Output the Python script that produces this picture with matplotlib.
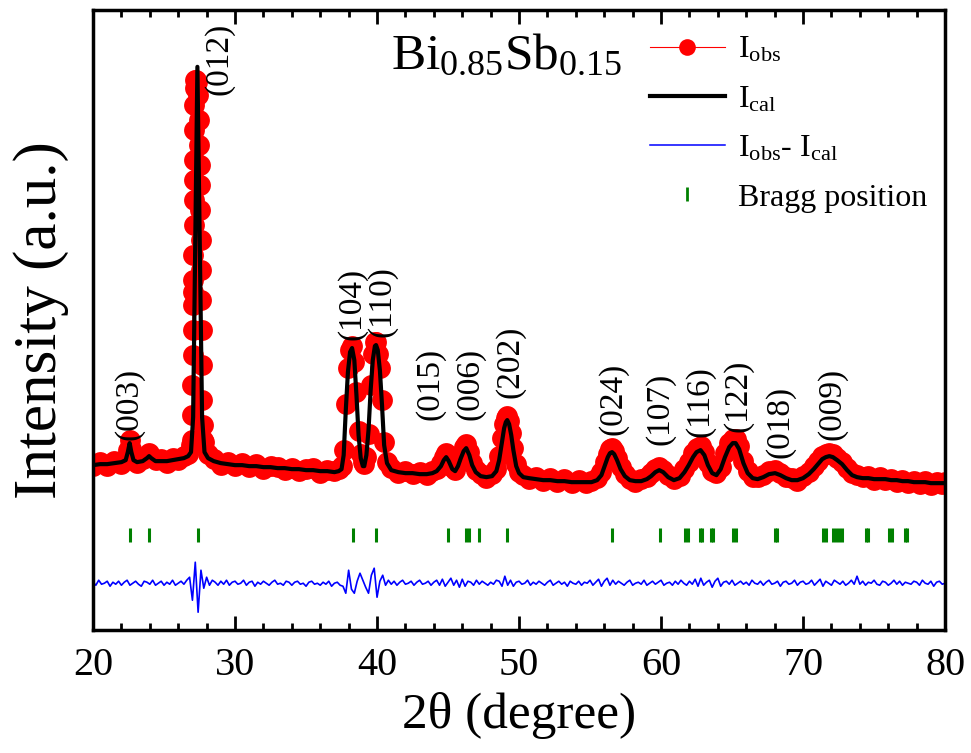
import numpy as np
import matplotlib
matplotlib.use("Agg")
import matplotlib.pyplot as plt
from matplotlib.lines import Line2D

plt.rcParams['font.family'] = ['Liberation Serif', 'DejaVu Serif']
plt.rcParams['mathtext.fontset'] = 'custom'
plt.rcParams['mathtext.rm'] = 'Liberation Serif'
plt.rcParams['mathtext.it'] = 'Liberation Serif:italic'

# ---------------- data ----------------
two_theta = [20.0, 20.5, 21.0, 21.5, 22.0, 22.3, 22.45, 22.58, 22.7, 22.85,
             23.1, 23.5, 23.8, 23.95, 24.1, 24.4, 24.8, 25.2, 25.6, 26.0,
             26.4, 26.7, 26.9, 27.05, 27.19, 27.35, 27.52, 27.68, 27.85, 28.1,
             28.5, 29.0, 29.5, 30.0, 30.5, 31.0, 31.5, 32.0, 32.5, 33.0,
             33.5, 34.0, 34.5, 35.0, 35.5, 36.0, 36.5, 37.0, 37.3, 37.5,
             37.65, 37.8, 37.95, 38.1, 38.24, 38.4, 38.55, 38.7, 38.85, 39.0,
             39.1, 39.25, 39.4, 39.55, 39.7, 39.85, 39.93, 40.05, 40.2, 40.35,
             40.5, 40.7, 41.0, 41.5, 42.0, 42.5, 43.0, 43.5, 43.9, 44.2,
             44.5, 44.7, 44.87, 45.05, 45.3, 45.5, 45.7, 45.9, 46.1, 46.28,
             46.5, 46.7, 46.95, 47.3, 47.7, 48.1, 48.4, 48.6, 48.8, 48.95,
             49.07, 49.17, 49.3, 49.45, 49.6, 49.8, 50.0, 50.3, 50.7, 51.2,
             51.7, 52.2, 52.7, 53.2, 53.7, 54.2, 54.7, 55.1, 55.5, 55.8,
             56.05, 56.25, 56.4, 56.55, 56.7, 56.9, 57.15, 57.45, 57.8, 58.2,
             58.6, 59.0, 59.3, 59.6, 59.87, 60.15, 60.5, 60.9, 61.3, 61.65,
             61.95, 62.25, 62.5, 62.78, 63.05, 63.3, 63.6, 63.9, 64.2, 64.5,
             64.8, 65.05, 65.25, 65.5, 65.8, 66.1, 66.45, 66.8, 67.2, 67.6,
             68.03, 68.4, 68.8, 69.2, 69.6, 70.0, 70.4, 70.75, 71.05, 71.35,
             71.6, 71.85, 72.1, 72.4, 72.75, 73.1, 73.45, 73.8, 74.2, 74.6,
             75.0, 75.4, 75.8, 76.2, 76.6, 77.0, 77.4, 77.8, 78.2, 78.6,
             79.0, 79.4, 79.8, 80.0]

i_cal = [165, 166, 166, 167, 168, 170, 178, 187, 178, 170,
         168, 169, 172, 174, 172, 169, 169, 169, 170, 171,
         172, 174, 178, 213, 380, 563, 380, 213, 178, 172,
         169, 167, 166, 165, 165, 164, 164, 163, 163, 162,
         162, 161, 161, 160, 160, 159, 159, 158, 159, 161,
         175, 220, 258, 278, 282, 270, 235, 195, 172, 164,
         164, 175, 200, 240, 270, 284, 285, 280, 260, 225,
         185, 167, 160, 158, 157, 157, 156, 156, 157, 159,
         164, 170, 173, 169, 161, 159, 164, 172, 179, 182,
         175, 165, 158, 154, 153, 154, 159, 170, 188, 202,
         208, 210, 206, 195, 180, 164, 157, 153, 152, 151,
         150, 150, 149, 149, 148, 148, 148, 148, 150, 155,
         165, 173, 177, 178, 176, 170, 161, 154, 150, 149,
         149, 151, 154, 158, 160, 158, 153, 150, 152, 158,
         165, 173, 178, 180, 175, 165, 157, 155, 161, 173,
         183, 187, 187, 181, 167, 157, 152, 151, 153, 156,
         157, 155, 152, 150, 150, 152, 156, 161, 166, 171,
         173, 174, 173, 170, 166, 160, 155, 153, 152, 152,
         151, 151, 151, 150, 150, 149, 149, 148, 148, 148,
         147, 147, 147, 147]

i_obs = [164, 168, 164, 169, 166, 172, 180, 190, 181, 171,
         167, 171, 173, 177, 173, 170, 171, 167, 172, 170,
         174, 176, 185, 338, 550, 548, 465, 230, 188, 176,
         171, 165, 168, 164, 167, 163, 166, 161, 164, 163,
         160, 162, 159, 161, 162, 157, 160, 159, 161, 164,
         180, 226, 262, 280, 284, 268, 238, 199, 176, 168,
         166, 173, 196, 245, 276, 288, 288, 276, 262, 230,
         188, 168, 162, 157, 159, 156, 158, 155, 159, 161,
         167, 173, 177, 172, 163, 160, 168, 176, 183, 186,
         178, 167, 160, 156, 152, 156, 161, 174, 192, 206,
         212, 214, 209, 197, 182, 166, 158, 155, 151, 153,
         149, 152, 148, 151, 147, 150, 147, 149, 152, 158,
         168, 176, 181, 182, 179, 172, 163, 156, 151, 148,
         151, 153, 157, 161, 163, 160, 155, 151, 154, 161,
         168, 177, 182, 184, 178, 167, 159, 157, 163, 177,
         187, 191, 191, 184, 169, 159, 153, 153, 155, 159,
         160, 157, 153, 152, 149, 154, 158, 164, 169, 174,
         176, 177, 176, 172, 168, 162, 157, 155, 153, 154,
         150, 153, 150, 151, 148, 150, 147, 149, 146, 149,
         145, 148, 146, 148]

# extra observed points on the steep (012) flanks
two_theta_012 = [26.95, 26.98, 27.00, 27.02, 27.03, 27.04, 27.06, 27.07, 27.08, 27.09,
                 27.10, 27.11, 27.12, 27.14, 27.16, 27.27, 27.42, 27.45, 27.47, 27.54,
                 27.56, 27.58, 27.60, 27.62, 27.64, 27.66, 27.71, 27.76]
i_obs_012 = [190, 215, 245, 275, 300, 325, 350, 375, 405, 430,
             450, 470, 500, 525, 542, 550, 535, 510, 485, 445,
             420, 390, 360, 330, 300, 265, 205, 190]

# difference curve (Iobs - Ical), sampled every 0.2 deg from 20 to 80
diff_start, diff_step = 20.0, 0.2
diff_values = [1, -2, 3, -1, 0, 2, -3, 1, -1, 2,
               -2, 1, 3, -2, 0, 2, -1, -3, 2, 1,
               -1, 3, -2, 0, 2, -2, 1, -1, 3, -2,
               0, 2, -1, 3, 6, -17, 21, -29, 13, -5,
               6, -2, 3, 1, -2, 2, -1, 3, -2, 1,
               2, -1, 0, 3, -2, 1, 2, -3, 1, -1,
               2, 0, -2, 1, 3, -1, 0, -2, 2, 1,
               -2, 1, 2, -1, 0, -3, 1, 2, -1, 0,
               -2, 1, -1, 2, -3, 0, 1, -2, -3, -10,
               13, -6, -10, 2, 10, 3, -4, -10, 8, 15,
               -14, 2, 8, -2, 3, -1, 2, -2, 1, 3,
               -1, 0, 2, -2, 1, 3, -1, 0, 2, -2,
               1, 3, -2, 4, -3, 1, 5, -2, 3, -4,
               4, -3, 2, 1, -2, 3, -1, 2, 0, -2,
               1, -1, 3, 2, -3, 7, -2, 3, -3, 1,
               2, -1, 0, 3, -2, 1, -1, 2, 0, -2,
               1, 3, -2, 0, 2, -1, 1, -3, 2, 0,
               -1, 2, -2, 1, 0, 3, -2, 1, 4, -3,
               2, 5, -2, 3, -1, 2, 0, -2, 1, 3,
               -2, 0, 1, -1, 3, -2, 0, 2, -1, 1,
               3, -2, 0, 1, -2, 2, -1, 3, 0, -2,
               2, -1, 4, -3, 5, -2, 1, 3, -4, 2,
               5, -3, 1, 2, -1, 3, -2, 0, 2, -1,
               1, -2, 3, 0, -1, 2, -2, 1, 3, -1,
               0, 2, -3, 1, 2, -1, 0, 3, -2, 1,
               2, -1, 0, 3, -2, 1, 4, -3, 2, 0,
               -2, 3, 1, -1, 2, -2, 0, 3, -1, 7,
               -1, 2, -2, 1, 0, 3, -1, -2, 2, 1,
               -2, 0, 3, -1, 2, -2, 1, 0, -1, 2,
               1, -2, 3, 0, -1, 2, -3, 1, 2, -1,
               0]
diff_offset = 47

# Bragg positions
bragg_positions = [22.61, 23.97, 27.36, 38.29, 39.94, 44.99, 46.23, 46.47, 47.17, 49.17,
                   56.58, 59.93, 61.68, 61.87, 62.74, 62.90, 63.49, 63.63, 65.09, 65.27,
                   68.03, 68.19, 71.43, 71.60, 72.14, 72.33, 72.51, 72.72, 74.42, 74.60,
                   76.06, 76.25, 77.19, 77.35]
bragg_level = 95.5

# reflection labels
hkl_labels = ['(003)', '(012)', '(104)', '(110)', '(015)', '(006)', '(202)',
              '(024)', '(107)', '(116)', '(122)', '(018)', '(009)']
hkl_x = [22.54, 28.9, 38.27, 40.38, 43.77, 46.52, 49.34,
         56.6, 59.92, 62.74, 65.42, 68.38, 72.05]
hkl_y = [190, 535, 290, 293, 210, 210, 232,
         195, 185, 193, 198, 172, 190]

# ---------------- figure ----------------
fig = plt.figure(figsize=(9.71, 7.53), dpi=100)
ax = fig.add_axes([0.0958, 0.163, 0.8775, 0.824])

# merge observed arrays
tt_obs = np.array(two_theta + two_theta_012)
ii_obs = np.array(i_obs + i_obs_012)
order = np.argsort(tt_obs)
tt_obs, ii_obs = tt_obs[order], ii_obs[order]

ax.plot(tt_obs, ii_obs, color='red', lw=0.8, marker='o', markersize=15,
        markeredgewidth=0, zorder=2)
ax.plot(two_theta, i_cal, color='black', lw=3.0, zorder=3)

diff_x = diff_start + diff_step * np.arange(len(diff_values))
ax.plot(diff_x, diff_offset + np.array(diff_values), color='#0000ff', lw=1.2, zorder=2)

ax.plot(bragg_positions, [bragg_level] * len(bragg_positions), linestyle='none',
        marker='|', markersize=10, markeredgewidth=2.2, color='green', zorder=2)

for lab, x, y in zip(hkl_labels, hkl_x, hkl_y):
    ax.text(x, y, lab, rotation=90, ha='center', va='bottom', fontsize=24)

ax.text(0.485, 0.905, r'$\mathrm{Bi_{0.85}Sb_{0.15}}$', transform=ax.transAxes,
        ha='center', va='baseline', fontsize=37)

ax.set_xlim(20, 80)
ax.set_ylim(0, 620)
ax.set_xticks([20, 30, 40, 50, 60, 70, 80])
ax.set_xticks(np.arange(20, 81, 2), minor=True)
ax.set_yticks([])
ax.tick_params(axis='x', which='both', direction='in', top=True, labelsize=29,
               width=2, pad=12)
ax.tick_params(axis='x', which='major', length=10)
ax.tick_params(axis='x', which='minor', length=5)
for s in ax.spines.values():
    s.set_linewidth(2.5)

ax.set_xlabel('2θ (degree)', fontsize=37, labelpad=6)
ax.set_ylabel('Intensity (a.u.)', fontsize=44, labelpad=17)

handles = [
    Line2D([], [], color='red', lw=0.8, marker='o', markersize=12, markeredgewidth=0),
    Line2D([], [], color='black', lw=3.0),
    Line2D([], [], color='#0000ff', lw=1.1),
    Line2D([], [], color='green', linestyle='none', marker='|', markersize=10, markeredgewidth=2.0),
]
labels = [r'$\mathrm{I_{obs}}$', r'$\mathrm{I_{cal}}$', r'$\mathrm{I_{obs}}$- $\mathrm{I_{cal}}$', 'Bragg position']
ax.legend(handles, labels, loc='upper right', bbox_to_anchor=(1.005, 0.995), frameon=False,
          fontsize=23, handlelength=2.35, handletextpad=0.4, labelspacing=0.62,
          borderaxespad=0.3)

fig.savefig('out.png', dpi=100)
